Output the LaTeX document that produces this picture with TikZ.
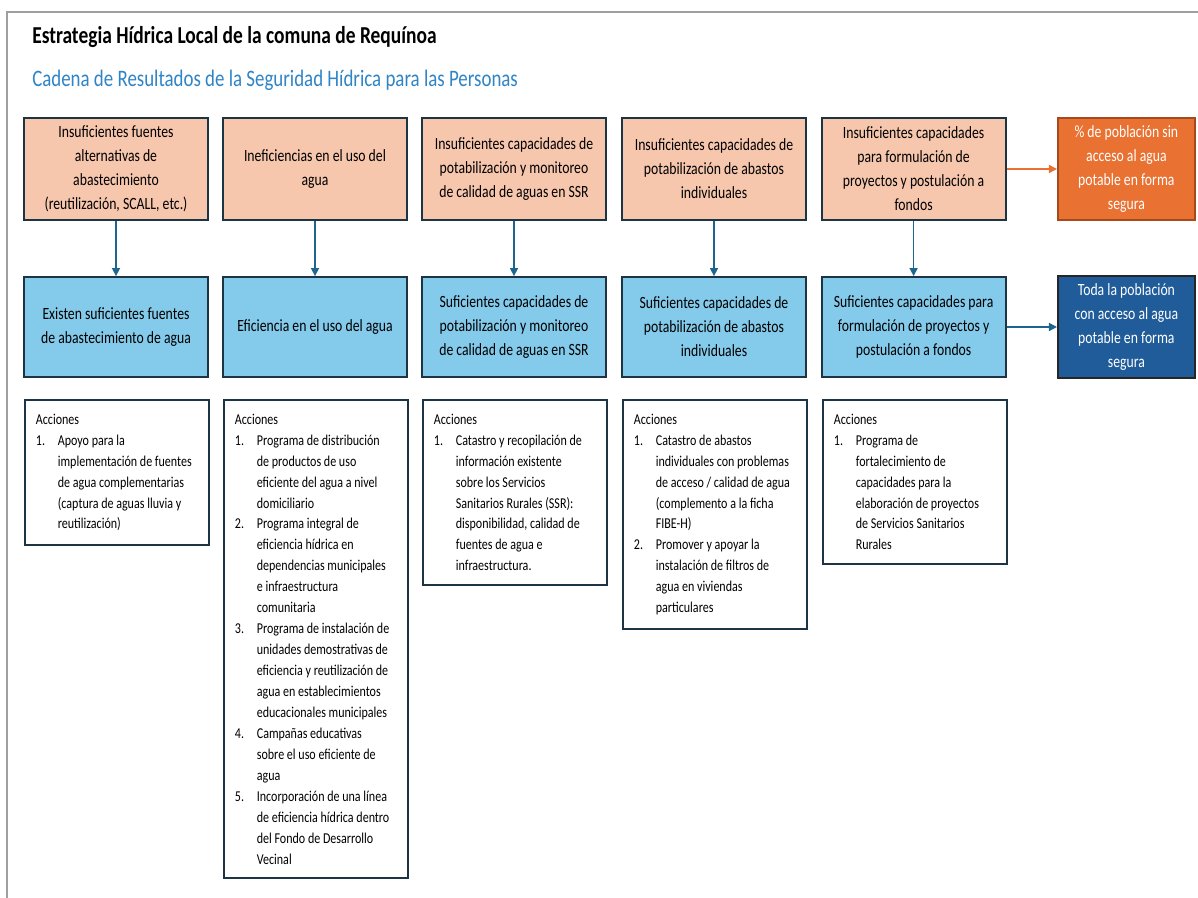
\documentclass[tikz,border=0pt]{standalone}
\usepackage{fontspec}
\setmainfont{Carlito}[FakeStretch=0.8]
\usepackage{tikz}
\usetikzlibrary{arrows.meta,positioning}
\definecolor{peach}{HTML}{F6C6AD}
\definecolor{sky}{HTML}{83CAEB}
\definecolor{orng}{HTML}{E97132}
\definecolor{orngedge}{HTML}{A44A1C}
\definecolor{navy}{HTML}{1F5C99}
\definecolor{edge}{HTML}{1C3444}
\definecolor{arrblue}{HTML}{1E6690}
\definecolor{subblue}{HTML}{2F84C6}
\newcommand{\boxfont}{\fontsize{12.2}{17.1}\selectfont}
\newcommand{\accfont}{\fontsize{10.7}{14.9}\selectfont}
\newcommand{\accnum}[1]{\makebox[15.6pt][l]{#1}}
\newcommand{\accind}{\hspace*{15.6pt}}
\tikzset{
  prob/.style={draw=edge,line width=1.3pt,fill=peach,minimum width=4.6cm,minimum height=2.55cm,inner sep=0pt,align=flush center,font=\boxfont},
  res/.style={prob,fill=sky,minimum height=2.5cm},
  goal/.style={prob,minimum width=3.425cm,text=white},
  acc/.style={draw=edge,line width=1.3pt,anchor=north west,text width=4.05cm,inner xsep=0.275cm,inner ysep=0.35cm,align=flush left,font=\accfont},
  arr/.style={-{Triangle[length=2mm,width=2mm]},line width=1.1pt,arrblue},
}
\begin{document}
\begin{tikzpicture}
\useasboundingbox (0,0) rectangle (29.95,22.45);
\draw[gray!75,line width=1.4pt] (0.175,0) -- (0.175,22.15) -- (29.95,22.15);
\node[anchor=west,inner sep=0pt,font=\fontsize{17.3}{20}\selectfont\bfseries] (title) at (0.8,21.52) {Estrategia Hídrica Local de la comuna de Requínoa};
\node[anchor=west,inner sep=0pt,font=\fontsize{16.8}{20}\selectfont,text=subblue] (subtitle) at (0.8,20.45) {Cadena de Resultados de la Seguridad Hídrica para las Personas};
% problemas
\node[prob] (prob1) at (2.9,18.225) {Insuficientes fuentes\\alternativas de\\abastecimiento\\(reutilización, SCALL, etc.)};
\node[prob] (prob2) at (7.875,18.225) {Ineficiencias en el uso del\\agua};
\node[prob] (prob3) at (12.85,18.225) {Insuficientes capacidades de\\potabilización y monitoreo\\de calidad de aguas en SSR};
\node[prob] (prob4) at (17.85,18.225) {Insuficientes capacidades de\\potabilización de abastos\\individuales};
\node[prob] (prob5) at (22.84,18.225) {Insuficientes capacidades\\para formulación de\\proyectos y postulación a\\fondos};
% resultados
\node[res] (res1) at (2.9,14.275) {Existen suficientes fuentes\\de abastecimiento de agua};
\node[res] (res2) at (7.875,14.275) {Eficiencia en el uso del agua};
\node[res] (res3) at (12.85,14.275) {Suficientes capacidades de\\potabilización y monitoreo\\de calidad de aguas en SSR};
\node[res] (res4) at (17.85,14.275) {Suficientes capacidades de\\potabilización de abastos\\individuales};
\node[res] (res5) at (22.84,14.275) {Suficientes capacidades para\\formulación de proyectos y\\postulación a fondos};
% impacto
\node[goal,fill=orng,draw=orngedge] (bad) at (28.16,18.225) {\% de población sin\\acceso al agua\\potable en forma\\segura};
\node[goal,fill=navy,draw=black!85] (good) at (28.16,14.275) {Toda la población\\con acceso al agua\\potable en forma\\segura};
% acciones
\node[acc] (acc1) at (0.6,12.475) {Acciones\\
\accnum{1.}Apoyo para la\\
\accind implementación de fuentes\\
\accind de agua complementarias\\
\accind (captura de aguas lluvia y\\
\accind reutilización)};
\node[acc] (acc2) at (5.575,12.475) {Acciones\\
\accnum{1.}Programa de distribución\\
\accind de productos de uso\\
\accind eficiente del agua a nivel\\
\accind domiciliario\\
\accnum{2.}Programa integral de\\
\accind eficiencia hídrica en\\
\accind dependencias municipales\\
\accind e infraestructura\\
\accind comunitaria\\
\accnum{3.}Programa de instalación de\\
\accind unidades demostrativas de\\
\accind eficiencia y reutilización de\\
\accind agua en establecimientos\\
\accind educacionales municipales\\
\accnum{4.}Campañas educativas\\
\accind sobre el uso eficiente de\\
\accind agua\\
\accnum{5.}Incorporación de una línea\\
\accind de eficiencia hídrica dentro\\
\accind del Fondo de Desarrollo\\
\accind Vecinal};
\node[acc] (acc3) at (10.55,12.475) {Acciones\\
\accnum{1.}Catastro y recopilación de\\
\accind información existente\\
\accind sobre los Servicios\\
\accind Sanitarios Rurales (SSR):\\
\accind disponibilidad, calidad de\\
\accind fuentes de agua e\\
\accind infraestructura.};
\node[acc] (acc4) at (15.55,12.475) {Acciones\\
\accnum{1.}Catastro de abastos\\
\accind individuales con problemas\\
\accind de acceso / calidad de agua\\
\accind (complemento a la ficha\\
\accind FIBE-H)\\
\accnum{2.}Promover y apoyar la\\
\accind instalación de filtros de\\
\accind agua en viviendas\\
\accind particulares};
\node[acc] (acc5) at (20.55,12.475) {Acciones\\
\accnum{1.}Programa de\\
\accind fortalecimiento de\\
\accind capacidades para la\\
\accind elaboración de proyectos\\
\accind de Servicios Sanitarios\\
\accind Rurales};
% flechas
\foreach \i in {1,...,5} \draw[arr] (prob\i) -- (res\i);
\draw[arr,orng] (prob5) -- (bad);
\draw[arr] (res5) -- (good);
\end{tikzpicture}
\end{document}
